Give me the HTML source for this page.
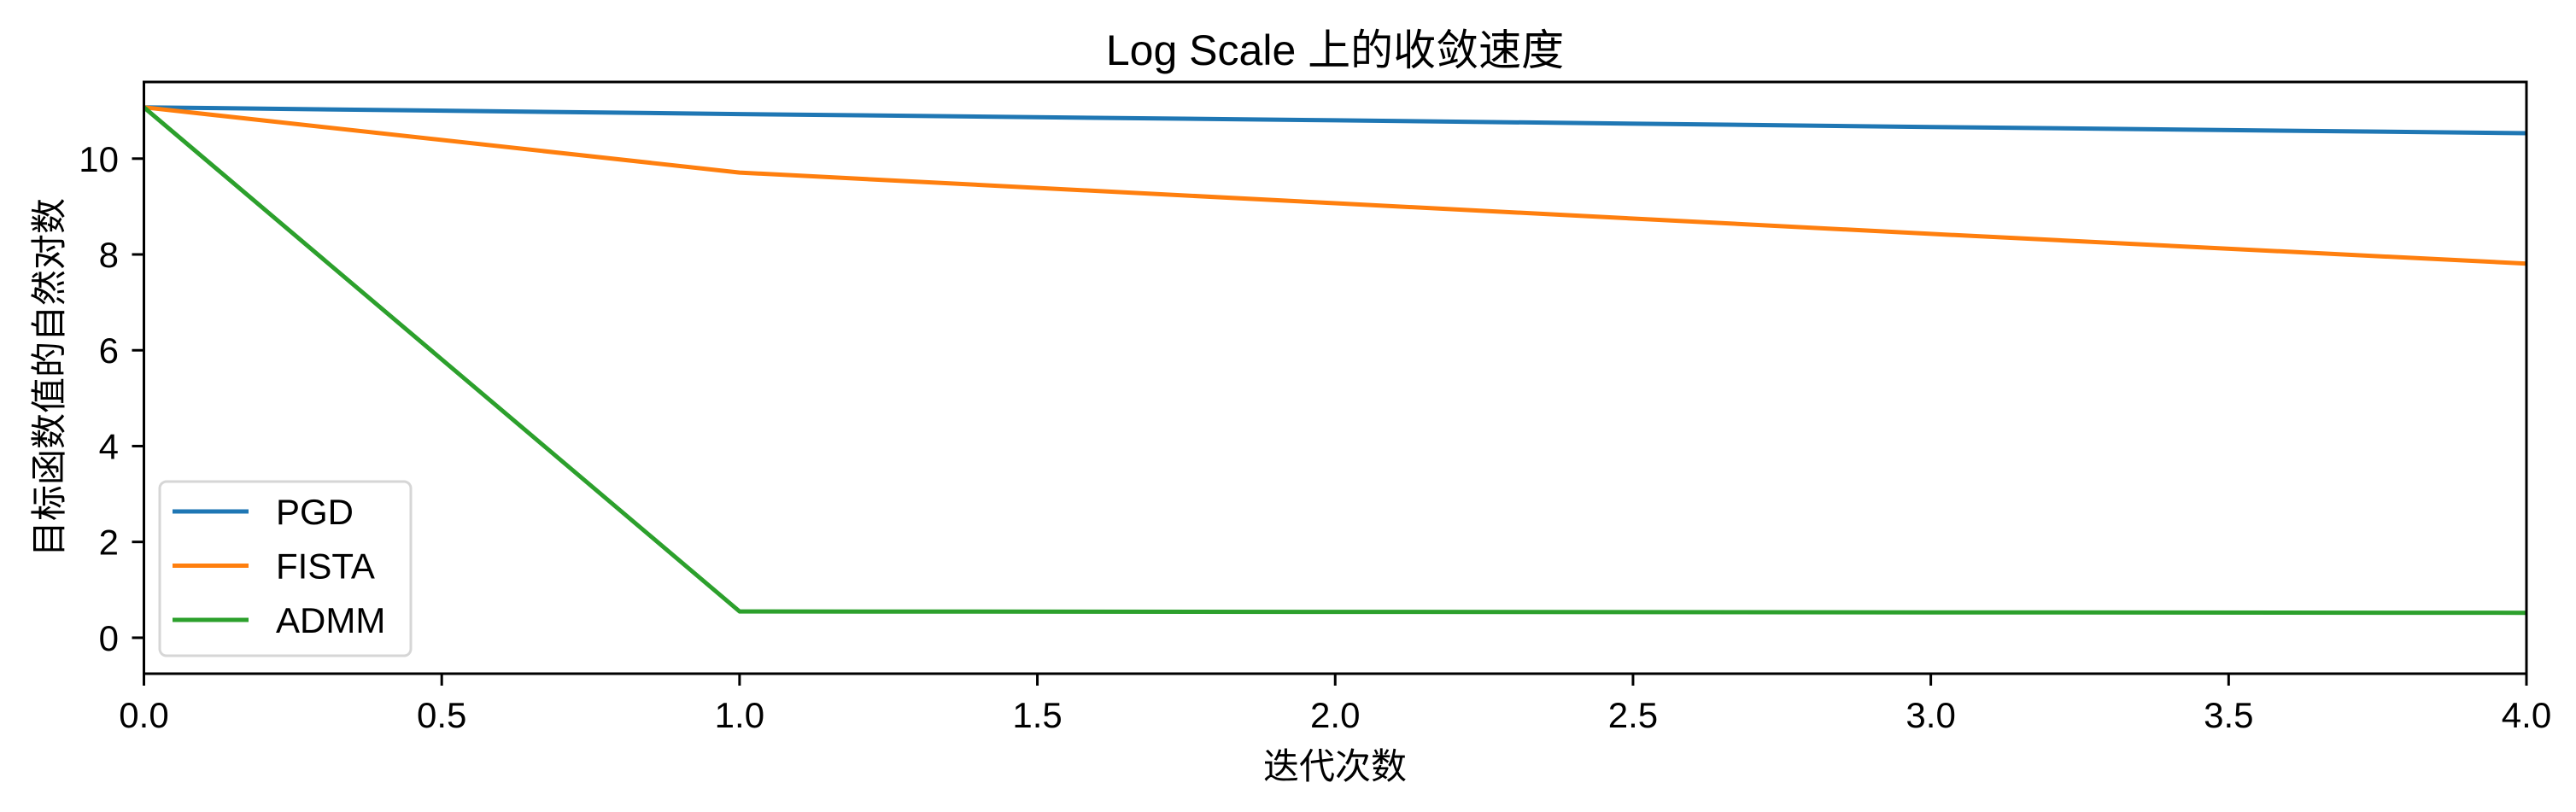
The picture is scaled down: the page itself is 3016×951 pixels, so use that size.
<!DOCTYPE html>
<html><head><meta charset="utf-8"><style>
html,body{margin:0;padding:0;background:#fff;}
svg{display:block;font-family:"Liberation Sans","Noto Sans CJK SC",sans-serif;}
</style></head><body>
<svg id="chart" width="3016" height="951" viewBox="0 0 3016 951" xmlns="http://www.w3.org/2000/svg">
<rect width="3016" height="951" fill="#fff"/>
<text x="1563" y="76" font-size="50" text-anchor="middle">Log Scale 上的收敛速度</text>
<g id="grid"></g>
<g id="series"></g>
<rect x="168.5" y="96" width="2789.5" height="693" fill="none" stroke="#000" stroke-width="3"/>
<g id="ticks"></g>
<text x="1563" y="912" font-size="42" text-anchor="middle">迭代次数</text>
<text transform="translate(72,442) rotate(-90)" font-size="42" text-anchor="middle">目标函数值的自然对数</text>
<g>
<rect x="187" y="564" width="294" height="204" rx="8" fill="#fff" fill-opacity="0.8" stroke="#d6d6d6" stroke-width="3"/>
<g id="legend-items"></g>
</g>
</svg>
<script>
const iterations = [0, 1, 2, 3, 4];
const seriesNames = ["PGD", "FISTA", "ADMM"];
const seriesColors = ["#1f77b4", "#ff7f0e", "#2ca02c"];
const pgdValues = [11.07, 10.93, 10.80, 10.66, 10.53];
const fistaValues = [11.07, 9.71, 9.07, 8.43, 7.81];
const admmValues = [11.07, 0.55, 0.54, 0.53, 0.52];
const xTickValues = [0, 0.5, 1, 1.5, 2, 2.5, 3, 3.5, 4];
const xTickLabels = ["0.0","0.5","1.0","1.5","2.0","2.5","3.0","3.5","4.0"];
const yTickValues = [0, 2, 4, 6, 8, 10];
const yTickLabels = ["0","2","4","6","8","10"];

const NS = "http://www.w3.org/2000/svg";
const X0 = 168.5, X1 = 2958, Y0 = 789, Y1 = 96;
const xMin = 0, xMax = 4, yMin = -0.75, yMax = 11.6;
function xs(v){ return X0 + (v - xMin) / (xMax - xMin) * (X1 - X0); }
function ys(v){ return Y0 - (v - yMin) / (yMax - yMin) * (Y0 - Y1); }
function mk(tag, attrs){ const e = document.createElementNS(NS, tag); for (const k in attrs) e.setAttribute(k, attrs[k]); return e; }

const seriesData = [pgdValues, fistaValues, admmValues];
const sg = document.getElementById("series");
seriesData.forEach((vals, i) => {
  const d = vals.map((v, j) => (j ? "L" : "M") + xs(iterations[j]).toFixed(1) + " " + ys(v).toFixed(1)).join(" ");
  const p = mk("path", {d: d, fill: "none", stroke: seriesColors[i], "stroke-width": 5, "stroke-linejoin": "round"});
  
  
  sg.appendChild(p);
});

const tg = document.getElementById("ticks");
xTickValues.forEach((v, i) => {
  const x = xs(v);
  const t = mk("line", {x1: x, x2: x, y1: Y0, y2: Y0 + 14, stroke: "#000", "stroke-width": 3});
  
  
  tg.appendChild(t);
  const l = mk("text", {x: x, y: 852, "font-size": 42, "text-anchor": "middle"});
  l.textContent = xTickLabels[i];
  
  
  tg.appendChild(l);
});
yTickValues.forEach((v, i) => {
  const y = ys(v);
  const t = mk("line", {x1: X0 - 14, x2: X0, y1: y, y2: y, stroke: "#000", "stroke-width": 3});
  
  
  tg.appendChild(t);
  const l = mk("text", {x: 139, y: y + 15, "font-size": 42, "text-anchor": "end"});
  l.textContent = yTickLabels[i];
  
  
  tg.appendChild(l);
});

const lg = document.getElementById("legend-items");
seriesNames.forEach((n, i) => {
  const y = 599 + i * 63.5;
  const ln = mk("line", {x1: 202, x2: 291, y1: y, y2: y, stroke: seriesColors[i], "stroke-width": 5});
  
  
  lg.appendChild(ln);
  const tx = mk("text", {x: 323, y: y + 15, "font-size": 42});
  tx.textContent = n;
  
  
  lg.appendChild(tx);
});
</script>
</body></html>
